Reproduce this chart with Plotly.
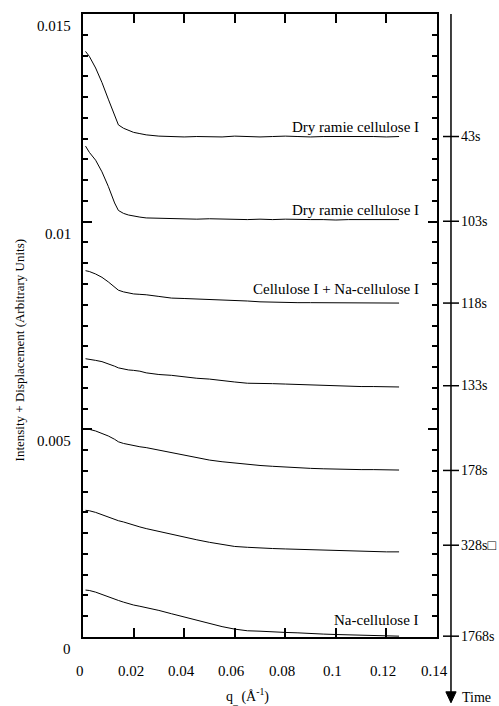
import plotly.graph_objects as go

# ---------------- data ----------------
q = [0.001, 0.0025, 0.005, 0.0075, 0.01, 0.0125, 0.014, 0.016, 0.018, 0.02, 0.0225, 0.025, 0.03,
     0.035, 0.04, 0.045, 0.05, 0.055, 0.06, 0.065, 0.07, 0.075, 0.08, 0.085, 0.09, 0.095,
     0.1, 0.105, 0.11, 0.115, 0.12, 0.125]

I_43s = [0.01410, 0.01398, 0.01370, 0.01335, 0.01295, 0.01255, 0.01233, 0.01225, 0.01219, 0.01215,
         0.01212, 0.01209, 0.01206,
         0.01205, 0.01204, 0.01205, 0.01205, 0.01204, 0.01206, 0.01205, 0.01204, 0.01205, 0.01206,
         0.01205, 0.01204, 0.01205, 0.01205, 0.01206, 0.01205, 0.01205, 0.01204, 0.01205]
I_103s = [0.01182, 0.01167, 0.01148, 0.01120, 0.01085, 0.01045, 0.01027, 0.01020, 0.01016, 0.01013,
          0.01011, 0.01009, 0.01008,
          0.01007, 0.01007, 0.01006, 0.01007, 0.01006, 0.01006, 0.01005, 0.01006, 0.01005, 0.01006,
          0.01005, 0.01005, 0.01005, 0.01004, 0.01005, 0.01005, 0.01005, 0.01005, 0.01005]
I_118s = [0.00882, 0.00880, 0.00874, 0.00866, 0.00855, 0.00843, 0.00835, 0.00831, 0.00828, 0.00826,
          0.00825, 0.00824, 0.00820,
          0.00816, 0.00815, 0.00814, 0.00812, 0.00811, 0.00810, 0.00809, 0.00807, 0.00806, 0.00806,
          0.00805, 0.00805, 0.00805, 0.00804, 0.00804, 0.00804, 0.00804, 0.00804, 0.00804]
I_133s = [0.00670, 0.00669, 0.00666, 0.00663, 0.00658, 0.00652, 0.00648, 0.00645, 0.00643, 0.00642,
          0.00640, 0.00636, 0.00632,
          0.00630, 0.00626, 0.00623, 0.00621, 0.00617, 0.00614, 0.00611, 0.00611, 0.00610, 0.00609,
          0.00608, 0.00606, 0.00605, 0.00604, 0.00604, 0.00603, 0.00603, 0.00602, 0.00602]
I_178s = [0.00500, 0.00500, 0.00496, 0.00490, 0.00484, 0.00476, 0.00470, 0.00466, 0.00463, 0.00461,
          0.00458, 0.00456, 0.00450,
          0.00444, 0.00438, 0.00432, 0.00426, 0.00422, 0.00419, 0.00415, 0.00413, 0.00411, 0.00409,
          0.00408, 0.00406, 0.00405, 0.00404, 0.00404, 0.00403, 0.00403, 0.00402, 0.00402]
I_328s = [0.00305, 0.00304, 0.00300, 0.00294, 0.00288, 0.00282, 0.00280, 0.00277, 0.00273, 0.00269,
          0.00265, 0.00261, 0.00254,
          0.00247, 0.00241, 0.00234, 0.00228, 0.00223, 0.00218, 0.00216, 0.00214, 0.00213, 0.00212,
          0.00211, 0.00210, 0.00209, 0.00208, 0.00207, 0.00207, 0.00206, 0.00205, 0.00205]
I_1768s = [0.00113, 0.00112, 0.00108, 0.00102, 0.00096, 0.00091, 0.00088, 0.00084, 0.00080, 0.00077,
           0.00074, 0.00071, 0.00064,
           0.00056, 0.00048, 0.00040, 0.00032, 0.00025, 0.00019, 0.00015, 0.00014, 0.00012, 0.00011,
           0.00010, 0.00008, 0.00007, 0.00006, 0.00005, 0.00004, 0.00003, 0.00003, 0.00002]

series = [I_43s, I_103s, I_118s, I_133s, I_178s, I_328s, I_1768s]

time_labels = ["43s", "103s", "118s", "133s", "178s", "328s\u25a1", "1768s"]
time_levels = [0.01205, 0.01001, 0.00804, 0.00605, 0.00401, 0.00221, 0.00002]

curve_labels = ["Dry ramie cellulose I", "Dry ramie cellulose I",
                "Cellulose I + Na-cellulose I", "Na-cellulose I"]
curve_label_y = [0.01228, 0.01029, 0.00839, 0.00041]
curve_label_x = 0.1337

y_tick_vals = [0, 0.005, 0.01, 0.015]
y_tick_text = ["0", "0.005", "0.01", "0.015"]
y_minor_step = 0.0005
x_tick_vals = [0, 0.02, 0.04, 0.06, 0.08, 0.1, 0.12, 0.14]
x_tick_text = ["0", "0.02", "0.04", "0.06", "0.08", "0.1", "0.12", "0.14"]

FONT = "Liberation Serif"
PW, PH = 354, 625          # plot-area size in px
PX = 1.0 / PW

fig = go.Figure()
for s in series:
    fig.add_trace(go.Scatter(x=q, y=s, mode="lines",
                             line=dict(color="black", width=1), showlegend=False,
                             hoverinfo="skip"))

fig.update_layout(
    width=499, height=706,
    margin=dict(l=83, r=62, t=12, b=69),
    paper_bgcolor="white", plot_bgcolor="white",
    font=dict(family=FONT, color="black", size=14),
)

fig.update_xaxes(
    range=[0, 0.14], tickvals=x_tick_vals, showticklabels=False,
    showgrid=False, zeroline=False,
    showline=True, linecolor="black", linewidth=1.5, mirror="ticks",
    ticks="inside", ticklen=9, tickwidth=2.2, tickcolor="black",
)
fig.update_yaxes(
    range=[0, 0.015], tickvals=y_tick_vals, showticklabels=False,
    showgrid=False, zeroline=False,
    showline=True, linecolor="black", linewidth=1.5, mirror="ticks",
    ticks="inside", ticklen=9, tickwidth=2.2, tickcolor="black",
    minor=dict(dtick=y_minor_step, ticks="inside", ticklen=5, tickwidth=1.8, tickcolor="black"),
)

# tick labels (drawn slightly offset from their ticks, as in the original)
for v, t in zip(y_tick_vals, y_tick_text):
    fig.add_annotation(text=t, xref="paper", yref="y", x=0, y=v, xshift=-10, yshift=-12,
                       xanchor="right", yanchor="middle", showarrow=False,
                       font=dict(family=FONT, size=15))
for v, t in zip(x_tick_vals, x_tick_text):
    fig.add_annotation(text=t, xref="x", yref="paper", x=v, y=0, xshift=-3, yshift=-34,
                       xanchor="center", yanchor="middle", showarrow=False,
                       font=dict(family=FONT, size=15))

# y axis title
fig.add_annotation(text="Intensity + Displacement (Arbitrary Units)", textangle=-90,
                   xref="paper", yref="paper", x=0, y=0.46, xshift=-64,
                   xanchor="center", yanchor="middle", showarrow=False,
                   font=dict(family=FONT, size=13))
# x axis title
fig.add_annotation(text="q<sub>_</sub> (Å<sup>-1</sup>)",
                   xref="paper", yref="paper", x=0.466, y=-0.094,
                   xanchor="center", yanchor="middle", showarrow=False,
                   font=dict(family=FONT, size=14))

# curve labels
for txt, yy in zip(curve_labels, curve_label_y):
    fig.add_annotation(text=txt, xref="x", yref="y", x=curve_label_x, y=yy,
                       xanchor="right", yanchor="middle", showarrow=False,
                       font=dict(family=FONT, size=15))

# time axis
ax_x = 1.0395
fig.add_shape(type="line", xref="paper", yref="paper", x0=ax_x, x1=ax_x, y0=1.0, y1=-0.09,
              line=dict(color="black", width=1.5))
fig.add_shape(type="path", xref="paper", yref="paper",
              path=f"M {ax_x-0.0145} -0.088 L {ax_x+0.0145} -0.088 L {ax_x} -0.1056 Z",
              fillcolor="black", line=dict(color="black", width=1))
for lab, lv in zip(time_labels, time_levels):
    fig.add_shape(type="line", xref="paper", yref="y", x0=ax_x - 8 * PX, x1=ax_x + 8 * PX,
                  y0=lv, y1=lv, line=dict(color="black", width=1.5))
    fig.add_annotation(text=lab, xref="paper", yref="y", x=1.063, y=lv,
                       xanchor="left", yanchor="middle", showarrow=False,
                       font=dict(family=FONT, size=14))
fig.add_annotation(text="Time", xref="paper", yref="paper", x=1.065, y=-0.0976,
                   xanchor="left", yanchor="middle", showarrow=False,
                   font=dict(family=FONT, size=14))

fig.write_html("out.html")
